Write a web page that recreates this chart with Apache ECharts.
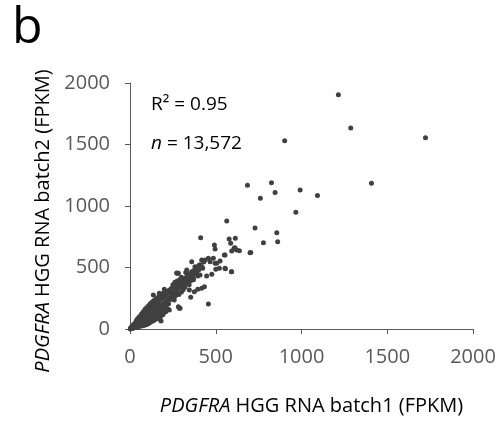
<!DOCTYPE html>
<html>
<head>
<meta charset="utf-8">
<script src="https://cdn.jsdelivr.net/npm/echarts@6/dist/echarts.min.js"></script>
<style>
html,body{margin:0;padding:0;background:#fff;}
#chart{width:502px;height:423px;}
</style>
</head>
<body>
<div id="chart"></div>
<script>
// Axis ticks
const xTicks = [0, 500, 1000, 1500, 2000];
const yTicks = [0, 500, 1000, 1500, 2000];
const xTitle = 'PDGFRA HGG RNA batch1 (FPKM)';
const yTitle = 'PDGFRA HGG RNA batch2 (FPKM)';
const r2Text = 'R\u00B2 = 0.95';
const nText = '13,572';

// Dense core of the cloud [batch1, batch2]
const densePoints = [
[3,4],[5,12],[8,6],[2,1],
[12,5],[14,18],[16,30],[18,10],
[22,8],[25,25],[27,45],[24,36],
[33,12],[35,32],[37,55],[36,68],[38,22],
[43,16],[45,38],[47,60],[44,84],[48,28],
[53,20],[55,45],[57,72],[54,100],[58,88],
[63,24],[65,52],[67,82],[64,110],[68,124],
[73,27],[75,58],[77,92],[74,120],[78,142],
[83,30],[85,62],[87,98],[84,130],[88,160],
[93,35],[95,70],[97,105],[94,140],[98,175],
[103,40],[105,78],[107,115],[104,152],[108,190],
[113,48],[115,88],[117,125],[114,165],[118,205],
[123,58],[125,95],[127,135],[124,175],[128,218],
[133,66],[135,105],[137,145],[134,188],[138,230],
[143,74],[145,115],[147,155],[144,198],[148,240],
[153,84],[155,125],[157,168],[154,210],[158,252],
[163,92],[165,135],[167,178],[164,222],[168,262],
[173,100],[175,145],[177,190],[174,235],[178,272],
[183,110],[185,155],[187,200],[184,245],[188,284],
[193,118],[195,165],[197,210],[194,255],[198,292],
[208,140],[210,185],[212,230],[209,270],[213,300],
[223,160],[225,205],[227,250],[224,290],[228,315]
];

// Edge scatter around the core
const edgePoints = [
[181,65],[229,154],[288,168],[258,236],[346,317],[375,303],[395,323],[434,344],
[200,323],[220,303],[175,79],[136,276],[282,181],[292,168],[354,258],[418,331],
[152,236],[171,290],[276,453],[272,455]
];

// Band between the core and the tail
const bandPoints = [
[240,280],[250,320],[262,300],[270,345],[280,330],[290,370],[300,355],[310,395],
[320,380],[330,410],[340,400],[350,440],[360,425],[370,470],[380,455],[390,495],
[400,480],[410,520],[420,505],[430,545],[300,300],[320,340],[345,360],[370,400],
[395,430],[250,360],[275,390],[300,420],[325,460],[255,250],[285,280],[310,320],
[321,372],[282,358],[240,330],[265,270],
[236,240],[246,295],[258,335],[268,310],[278,365],[288,340],[298,385],[308,360],
[318,410],[328,385],[338,425],[348,410],[358,455],[368,440],[378,485],[388,470],
[398,510],[408,495],[262,380],[292,405],[335,445],[355,395],[244,262],[274,300]
];

// Sparse mid-range points
const midPoints = [
[564,878],[412,742],[578,732],[614,737],[587,697],[607,656],[593,634],[622,642],
[554,602],[492,683],[496,650],[457,575],[486,575],[467,547],[496,534],[438,561],
[418,561],[521,493],[554,493],[593,466],[360,547],[379,507],[404,520],[389,466],
[424,493],[331,480],[360,466],[354,439],[369,412],[331,425],[346,390],[311,385],
[292,372],[272,358],[282,453],[447,431],[477,445],[408,439],[506,534],[525,553],
[612,661],[638,637],[700,620],[457,203],[550,602],[591,466],[556,490],[500,485]
];

// High-expression outliers
const outlierPoints = [
[1215,1905],[1287,1635],[1723,1555],[1408,1185],[1093,1085],[992,1130],[902,1530],
[825,1190],[846,1110],[760,1062],[967,950],[729,821],[856,783],[778,702],[861,710],
[704,621],[685,1168]
];

const allPoints = densePoints.concat(edgePoints, bandPoints, midPoints, outlierPoints);

const FONT = 'Open Sans';
const chart = echarts.init(document.getElementById('chart'), null, {renderer: 'canvas'});

function titleRich(t) {
  const parts = t.split(' ');
  return '{i|' + parts[0] + '} ' + parts.slice(1).join(' ');
}

const axisCommon = {
  type: 'value',
  splitLine: {show: false},
  axisLine: {show: true, lineStyle: {color: '#595959', width: 1}},
  axisTick: {show: true, inside: false, length: 5, lineStyle: {color: '#595959', width: 1}},
};

chart.setOption({
  animation: false,
  backgroundColor: '#ffffff',
  grid: {left: 130, right: 29, top: 83, bottom: 94, containLabel: false, outerBoundsMode: 'none'},
  xAxis: Object.assign({}, axisCommon, {
    min: xTicks[0], max: xTicks[xTicks.length - 1], interval: xTicks[1] - xTicks[0],
    axisLabel: {color: '#595959', fontFamily: FONT, fontSize: 20, margin: 18, formatter: v => String(v)},
    name: titleRich(xTitle),
    nameLocation: 'middle',
    nameGap: 67,
    nameTextStyle: {
      color: '#000', fontFamily: FONT, fontSize: 20, padding: [0, 0, 0, 20],
      rich: {i: {fontStyle: 'italic', fontFamily: FONT, fontSize: 20, color: '#000'}}
    }
  }),
  yAxis: Object.assign({}, axisCommon, {
    min: yTicks[0], max: yTicks[yTicks.length - 1], interval: yTicks[1] - yTicks[0],
    axisLabel: {color: '#595959', fontFamily: FONT, fontSize: 20, margin: 20, formatter: v => String(v)},
    name: titleRich(yTitle),
    nameLocation: 'middle',
    nameGap: 72,
    nameRotate: 90,
    nameTextStyle: {
      color: '#000', fontFamily: FONT, fontSize: 20, padding: [0, 30, 0, 0],
      rich: {i: {fontStyle: 'italic', fontFamily: FONT, fontSize: 20, color: '#000'}}
    }
  }),
  graphic: [
    {type: 'text', left: 12, top: 4, style: {text: 'b', font: '50px "Open Sans"', fill: '#000'}},
    {type: 'text', left: 151, top: 95, style: {text: r2Text, font: '19px "Open Sans"', fill: '#000'}},
    {type: 'text', left: 151, top: 134, style: {
      text: '{i|n} = ' + nText, font: '19px "Open Sans"', fill: '#000',
      rich: {i: {fontStyle: 'italic', fontFamily: FONT, fontSize: 19, fill: '#000'}}
    }}
  ],
  series: [{
    type: 'scatter',
    data: allPoints,
    symbol: 'circle',
    symbolSize: 5,
    itemStyle: {color: '#404040', opacity: 1},
    silent: true
  }]
});
</script>
</body>
</html>
